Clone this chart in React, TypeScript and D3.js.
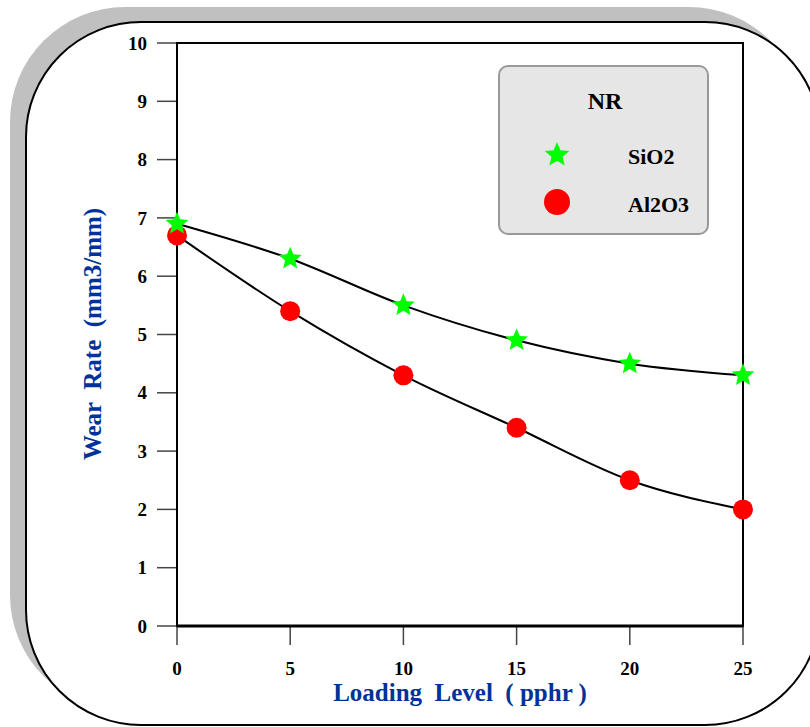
import React from "react";
import * as d3 from "d3";

const loading = [0, 5, 10, 15, 20, 25];
const sio2 = [6.9, 6.3, 5.5, 4.9, 4.5, 4.3];
const al2o3 = [6.7, 5.4, 4.3, 3.4, 2.5, 2.0];
const xTicks = [0, 5, 10, 15, 20, 25];
const yTicks = [0, 1, 2, 3, 4, 5, 6, 7, 8, 9, 10];
const legendTitle = "NR";
const seriesNames = ["SiO2", "Al2O3"];

const W = 810, H = 727;
const plot = { left: 177, right: 743, top: 43, bottom: 626 };
const BLUE = "#003399";
const FONT = "'Liberation Serif', 'Times New Roman', serif";

function starPath(cx: number, cy: number, R: number, ratio = 0.45) {
  const pts: string[] = [];
  for (let i = 0; i < 10; i++) {
    const r = i % 2 === 0 ? R : R * ratio;
    const a = -Math.PI / 2 + (i * Math.PI) / 5;
    pts.push(`${(cx + r * Math.cos(a)).toFixed(2)},${(cy + r * Math.sin(a)).toFixed(2)}`);
  }
  return "M" + pts.join("L") + "Z";
}

export default function App() {
  const x = d3.scaleLinear().domain([0, 25]).range([plot.left, plot.right]);
  const y = d3.scaleLinear().domain([0, 10]).range([plot.bottom, plot.top]);
  const line = d3
    .line<number>()
    .x((_, i) => x(loading[i]))
    .y((d) => y(d))
    .curve(d3.curveMonotoneX);

  const fx = 26, fy = 22, fw = 794, fh = 703, fr = 115;

  return (
    <svg
      width={W}
      height={H}
      style={{ position: "absolute", left: 0, top: 0, background: "#fff" }}
      fontFamily={FONT}
    >
      {/* frame shadow */}
      <rect x={fx - 16} y={fy - 15} width={fw} height={fh} rx={fr} ry={fr} fill="#c0c0c0" />
      <rect x={fx} y={fy} width={fw} height={fh} rx={fr} ry={fr} fill="#fff" stroke="#000" strokeWidth={2} />

      {/* y ticks */}
      {yTicks.map((t) => (
        <g key={"y" + t}>
          <line x1={157} x2={plot.left} y1={y(t)} y2={y(t)} stroke="#444" strokeWidth={1.5} />
          <text
            x={147}
            y={y(t)}
            dy="0.35em"
            textAnchor="end"
            fontSize={19}
            fontWeight="bold"
            fill="#000"
          >
            {t}
          </text>
        </g>
      ))}
      {/* x ticks */}
      {xTicks.map((t) => (
        <g key={"x" + t}>
          <line x1={x(t)} x2={x(t)} y1={plot.bottom} y2={plot.bottom + 19} stroke="#444" strokeWidth={1.5} />
          <text x={x(t)} y={675} textAnchor="middle" fontSize={19} fontWeight="bold" fill="#000">
            {t}
          </text>
        </g>
      ))}

      {/* plot box */}
      <rect
        x={plot.left}
        y={plot.top}
        width={plot.right - plot.left}
        height={plot.bottom - plot.top}
        fill="none"
        stroke="#000"
        strokeWidth={2}
      />
      <line x1={plot.left} x2={plot.right} y1={plot.bottom} y2={plot.bottom} stroke="#000" strokeWidth={3} />

      {/* axis titles */}
      <text
        x={460}
        y={701}
        textAnchor="middle"
        fontSize={25}
        fontWeight="bold"
        fill={BLUE}
        style={{ whiteSpace: "pre" }}
      >
        {"Loading  Level  ( pphr )"}
      </text>
      <text
        transform="translate(101,334) rotate(-90)"
        textAnchor="middle"
        fontSize={25}
        fontWeight="bold"
        fill={BLUE}
        style={{ whiteSpace: "pre" }}
      >
        {"Wear  Rate  (mm3/mm)"}
      </text>

      {/* curves */}
      <path d={line(sio2) || ""} fill="none" stroke="#000" strokeWidth={2} />
      <path d={line(al2o3) || ""} fill="none" stroke="#000" strokeWidth={2} />

      {/* markers */}
      {al2o3.map((v, i) => (
        <circle key={"c" + i} cx={x(loading[i])} cy={y(v)} r={10} fill="#ff0000" />
      ))}
      {sio2.map((v, i) => (
        <path key={"s" + i} d={starPath(x(loading[i]), y(v), 12)} fill="#00ff00" />
      ))}

      {/* legend */}
      <rect x={499} y={66} width={209} height={168} rx={9} ry={9} fill="#e6e6e6" stroke="#999" strokeWidth={2} />
      <text x={605} y={109} textAnchor="middle" fontSize={24} fontWeight="bold" fill="#000">
        {legendTitle}
      </text>
      <path d={starPath(557, 155, 13)} fill="#00ff00" />
      <text x={628} y={164} fontSize={22} fontWeight="bold" fill="#000">
        {seriesNames[0]}
      </text>
      <circle cx={557} cy={202} r={13} fill="#ff0000" />
      <text x={628} y={212} fontSize={22} fontWeight="bold" fill="#000">
        {seriesNames[1]}
      </text>
    </svg>
  );
}
